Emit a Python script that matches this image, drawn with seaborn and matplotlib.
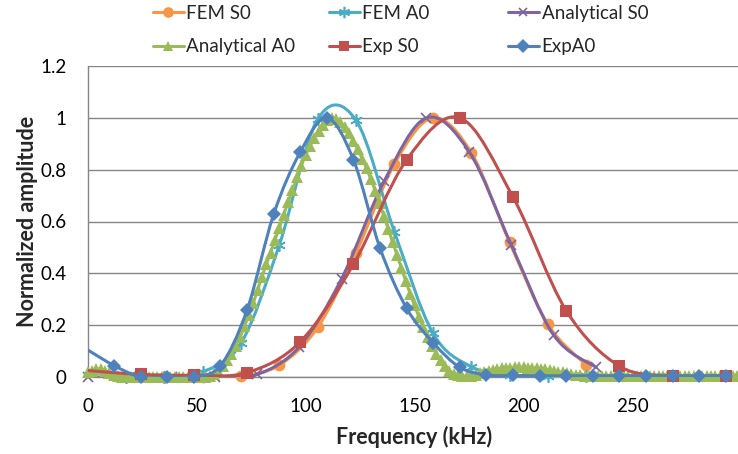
import numpy as np
import matplotlib
matplotlib.use("Agg")
import matplotlib.pyplot as plt
from matplotlib.path import Path
from matplotlib.patches import PathPatch
from matplotlib.lines import Line2D
import seaborn as sns

# ---------------- data ----------------
fem_x = [17.6, 35.2, 52.8, 70.4, 88.0, 105.6, 123.2, 140.8, 158.4, 176.0, 193.6, 211.2, 228.8]
fem_s0 = [0.0, 0.0, 0.0, 0.003, 0.046, 0.192, 0.48, 0.822, 1.0, 0.866, 0.52, 0.203, 0.046]
fem_a0 = [0.0, 0.0, 0.02, 0.13, 0.51, 0.995, 0.99, 0.56, 0.17, 0.04, 0.008, 0.003, 0.002]

ana_s0_x = [0.0, 19.4, 38.9, 58.3, 77.8, 97.2, 116.6, 136.1, 155.5, 175.0, 194.4, 213.8, 233.3]
ana_s0 = [0.0, 0.0, 0.0, 0.0, 0.01, 0.117, 0.38, 0.756, 1.0, 0.87, 0.51, 0.162, 0.037]

ana_a0_x = np.arange(0, 300, 2)
ana_a0 = [0.02, 0.025, 0.03, 0.03, 0.025, 0.016, 0.008, 0.003, 0.0,
          0.0, 0.0, 0.0, 0.0, 0.0, 0.0, 0.0, 0.0, 0.0, 0.0,
          0.0, 0.0, 0.0, 0.0, 0.0, 0.0, 0.0, 0.0, 0.0,
          0.004, 0.012, 0.025, 0.042, 0.065, 0.09, 0.12, 0.155, 0.195, 0.24,
          0.285, 0.335, 0.385, 0.435, 0.48, 0.53, 0.575, 0.625, 0.675, 0.72,
          0.77, 0.815, 0.855, 0.89, 0.922, 0.95, 0.973, 0.99, 0.998, 0.995,
          0.983, 0.965, 0.94, 0.91, 0.878, 0.843, 0.805, 0.763, 0.718, 0.67,
          0.62, 0.57, 0.52, 0.47, 0.42, 0.37, 0.322, 0.276, 0.233, 0.192,
          0.155, 0.121, 0.09, 0.064, 0.042, 0.025, 0.013, 0.006, 0.003, 0.003,
          0.005, 0.009, 0.014, 0.019, 0.023, 0.027, 0.03, 0.033, 0.035, 0.036,
          0.037, 0.037, 0.037, 0.036, 0.035, 0.034, 0.032, 0.03, 0.027, 0.024,
          0.021, 0.018, 0.015, 0.012, 0.009, 0.007, 0.005, 0.004, 0.003, 0.003,
          0.004, 0.004, 0.004, 0.004, 0.004, 0.004, 0.004, 0.004, 0.004, 0.004,
          0.004, 0.004, 0.004, 0.004, 0.004, 0.004, 0.004, 0.004, 0.004, 0.004,
          0.004, 0.004, 0.004, 0.004, 0.004, 0.004, 0.004, 0.004, 0.004, 0.004,
          0.004, 0.004]

exp_s0_x = [0.0, 24.4, 48.8, 73.2, 97.6, 122.0, 146.4, 170.8, 195.2, 219.6, 244.0, 268.4, 292.8]
exp_s0 = [0.025, 0.01, 0.007, 0.017, 0.136, 0.435, 0.838, 1.0, 0.694, 0.256, 0.042, 0.004, 0.004]

exp_a0_x = [0.0, 12.2, 24.4, 36.6, 48.8, 61.0, 73.2, 85.4, 97.6, 109.8, 122.0, 134.2, 146.4,
            158.6, 170.8, 183.0, 195.2, 207.4, 219.6, 231.8, 244.0, 256.2, 268.4, 280.6, 292.8]
exp_a0 = [0.105, 0.044, 0.0, 0.0, 0.0, 0.044, 0.259, 0.628, 0.868, 1.0, 0.838, 0.497, 0.265,
          0.132, 0.037, 0.008, 0.006, 0.005, 0.005, 0.005, 0.005, 0.005, 0.005, 0.005, 0.005]

x_ticks = [0, 50, 100, 150, 200, 250]
y_ticks = [0, 0.2, 0.4, 0.6, 0.8, 1.0, 1.2]
y_tick_labels = ["0", "0.2", "0.4", "0.6", "0.8", "1", "1.2"]

# ---------------- style ----------------
sns.set_theme(style="white")
FONT = ["Lato", "DejaVu Sans"]
plt.rcParams["font.family"] = FONT

C_ORANGE = "#F79646"
C_AQUA = "#4BACC6"
C_PURPLE = "#8064A2"
C_GREEN = "#9BBB59"
C_RED = "#C0504D"
C_BLUE = "#4F81BD"
GRID = "#868686"

fig = plt.figure(figsize=(7.38, 4.54), dpi=100)
ax = fig.add_axes([87.5 / 738, 1 - 377 / 454, (741.5 - 87.5) / 738, (377 - 66) / 454])

LW = 2.2


def smooth_line(xs, ys, color, z):
    pts = np.column_stack([np.asarray(xs, float), np.asarray(ys, float)])
    n = len(pts)
    verts = [pts[0]]
    codes = [Path.MOVETO]
    for i in range(n - 1):
        p0 = pts[i - 1] if i > 0 else pts[i]
        p1 = pts[i]
        p2 = pts[i + 1]
        p3 = pts[i + 2] if i + 2 < n else pts[i + 1]
        c1 = p1 + (p2 - p0) / 6.0
        c2 = p2 - (p3 - p1) / 6.0
        verts += [c1, c2, p2]
        codes += [Path.CURVE4] * 3
    patch = PathPatch(Path(verts, codes), facecolor="none", edgecolor=color,
                      lw=LW, zorder=z, capstyle="round", joinstyle="round",
                      transform=ax.transData)
    ax.add_patch(patch)


series = [
    dict(x=fem_x, y=fem_s0, color=C_ORANGE, marker="o", ms=8.5, mew=0, label="FEM S0"),
    dict(x=fem_x, y=fem_a0, color=C_AQUA, marker=(6, 2, 0), ms=9, mew=1.2, label="FEM A0"),
    dict(x=ana_s0_x, y=ana_s0, color=C_PURPLE, marker="x", ms=7, mew=1.2, label="Analytical S0"),
    dict(x=ana_a0_x, y=ana_a0, color=C_GREEN, marker="^", ms=8.5, mew=0, label="Analytical A0"),
    dict(x=exp_s0_x, y=exp_s0, color=C_RED, marker="s", ms=8.5, mew=0, label="Exp S0"),
    dict(x=exp_a0_x, y=exp_a0, color=C_BLUE, marker="D", ms=7.5, mew=0, label="ExpA0"),
]

handles = []
for k, s in enumerate(series):
    z = 3 + 2 * k
    smooth_line(s["x"], s["y"], s["color"], z)
    n = len(s["x"])
    mevery = list(range(1, n)) if s["label"] in ("ExpA0", "Exp S0") else None
    sns.lineplot(x=s["x"], y=s["y"], ax=ax, color=s["color"], marker=s["marker"],
                 markersize=s["ms"], markeredgewidth=s["mew"], markeredgecolor=s["color"],
                 linestyle="none", estimator=None, sort=False, zorder=z + 1,
                 clip_on=False, markevery=mevery, legend=False)
    handles.append(Line2D([], [], color=s["color"], lw=LW, marker=s["marker"],
                          markersize=s["ms"] * 0.9, markeredgewidth=s["mew"],
                          markeredgecolor=s["color"], label=s["label"]))

ax.set_xlim(0, 300)
ax.set_ylim(0, 1.2)
ax.set_xticks(x_ticks)
ax.set_xticklabels([str(t) for t in x_ticks])
ax.set_yticks(y_ticks)
ax.set_yticklabels(y_tick_labels)
ax.tick_params(axis="both", which="both", direction="out", length=5, width=1,
               color=GRID, labelsize=13.5, labelcolor="#000000")
ax.tick_params(axis="y", pad=10)
ax.tick_params(axis="x", pad=10)
for lab in ax.get_xticklabels() + ax.get_yticklabels():
    lab.set_family(FONT)

ax.grid(axis="y", color=GRID, lw=1, zorder=0)
ax.grid(axis="x", visible=False)
ax.set_axisbelow(True)
for side in ("top", "right"):
    ax.spines[side].set_visible(False)
for side in ("left", "bottom"):
    ax.spines[side].set_color(GRID)
    ax.spines[side].set_linewidth(1)
    ax.spines[side].set_zorder(2)

ax.set_xlabel("Frequency (kHz)", fontsize=15.5, fontweight="bold", family=FONT)
ax.set_ylabel("Normalized amplitude", fontsize=15.5, fontweight="bold", family=FONT)
ax.xaxis.set_label_coords((414 - 87.5) / (741.5 - 87.5), -(437 - 377) / (377 - 66))
ax.yaxis.set_label_coords(-(88 - 28) / (741.5 - 87.5), 0.5)
ax.xaxis.label.set_va("center")
ax.yaxis.label.set_va("center")

# legend: three columns, two rows each
col_x = [149 / 738, 325 / 738, 504 / 738]
for c in range(3):
    hs = [handles[c], handles[c + 3]]
    fig.legend(handles=hs, loc="upper left", bbox_to_anchor=(col_x[c], 1.0 - 1 / 454),
               bbox_transform=fig.transFigure, frameon=False, ncol=1,
               handlelength=1.65, handletextpad=0.15,
               labelspacing=0.88, borderaxespad=0.0, borderpad=0.2,
               prop={"family": FONT, "size": 13.5})

fig.savefig("out.png", dpi=100)
